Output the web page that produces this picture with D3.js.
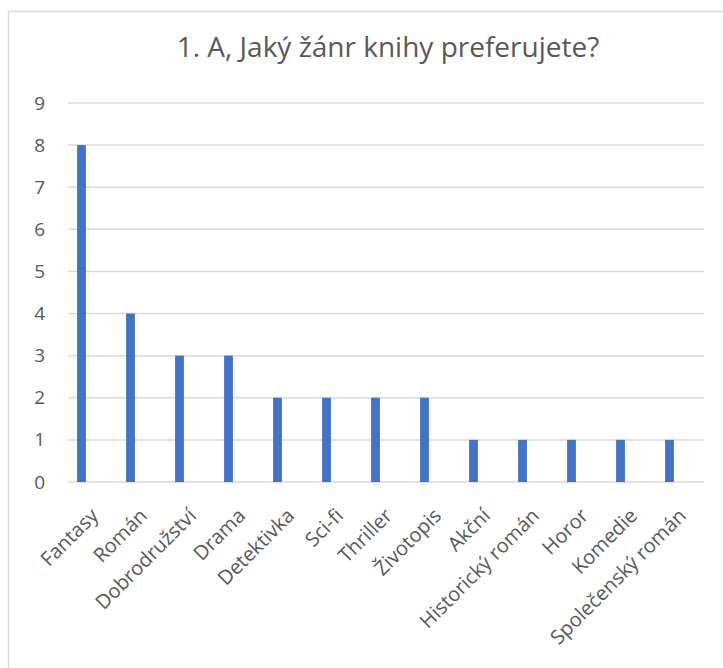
<!DOCTYPE html>
<html>
<head>
<meta charset="utf-8">
<script src="https://cdn.jsdelivr.net/npm/d3@7"></script>
<style>
  body { margin: 0; background: #fff; }
  svg { display: block; font-family: 'Open Sans', sans-serif; }
</style>
</head>
<body>
<div id="chart"></div>
<script>
const title = '1. A, Jaký žánr knihy preferujete?';
const genres = ['Fantasy', 'Román', 'Dobrodružství', 'Drama', 'Detektivka', 'Sci-fi', 'Thriller',
  'Životopis', 'Akční', 'Historický román', 'Horor', 'Komedie', 'Společenský román'];
const counts = [8, 4, 3, 3, 2, 2, 2, 2, 1, 1, 1, 1, 1];
const yTicks = [0, 1, 2, 3, 4, 5, 6, 7, 8, 9];

const width = 723;
const height = 668;

const svg = d3.select('#chart')
  .append('svg')
  .attr('width', width)
  .attr('height', height);

// Chart frame
svg.append('rect')
  .attr('x', 8.5)
  .attr('y', 11.5)
  .attr('width', 730)
  .attr('height', 700)
  .attr('fill', '#fff')
  .attr('stroke', '#d9d9d9')
  .attr('stroke-width', 1.5);

// Plot area
const gridLeft = 68;
const gridRight = 704;
const plotTop = 103;
const plotBottom = 482;

const xScale = d3.scaleBand().range([57, 694]).domain(genres)
  .paddingInner(0.82)
  .paddingOuter(0.41);
const yScale = d3.scaleLinear().range([plotBottom, plotTop]).domain([0, 9]);

// Gridlines
svg.append('g')
  .selectAll('line')
  .data(yTicks).enter()
  .append('line')
  .attr('x1', gridLeft)
  .attr('x2', gridRight)
  .attr('y1', (d) => yScale(d))
  .attr('y2', (d) => yScale(d))
  .attr('stroke', '#d9d9d9')
  .attr('stroke-width', 1.5);

// Y axis labels
const yAxis = d3.axisLeft(yScale).tickValues(yTicks).tickSize(0).tickPadding(0);
svg.append('g')
  .attr('transform', 'translate(45, 0)')
  .call(yAxis)
  .call((g) => g.select('.domain').remove())
  .call((g) => g.selectAll('text')
    .attr('font-size', 19)
    .attr('font-family', 'Open Sans, sans-serif')
    .attr('fill', '#595959'));

// Bars
svg.append('g')
  .selectAll('rect')
  .data(genres).enter()
  .append('rect')
  .attr('x', (d) => xScale(d))
  .attr('y', (d, i) => yScale(counts[i]))
  .attr('width', xScale.bandwidth())
  .attr('height', (d, i) => plotBottom - yScale(counts[i]))
  .attr('fill', '#4472c4');

// X axis labels
const xAxis = d3.axisBottom(xScale).tickSize(0).tickPadding(0);
svg.append('g')
  .attr('transform', `translate(0, ${plotBottom})`)
  .call(xAxis)
  .call((g) => g.select('.domain').remove())
  .call((g) => g.selectAll('text')
    .attr('font-size', 20)
    .attr('font-family', 'Open Sans, sans-serif')
    .attr('fill', '#595959')
    .attr('text-anchor', 'end')
    .attr('dy', 0)
    .attr('y', 0)
    .attr('transform', 'translate(18, 35) rotate(-45)'));

// Title
svg.append('text')
  .attr('x', 388)
  .attr('y', 57)
  .attr('text-anchor', 'middle')
  .attr('font-size', 28)
  .attr('font-family', 'Open Sans, sans-serif')
  .attr('fill', '#595959')
  .text(title);
</script>
</body>
</html>
